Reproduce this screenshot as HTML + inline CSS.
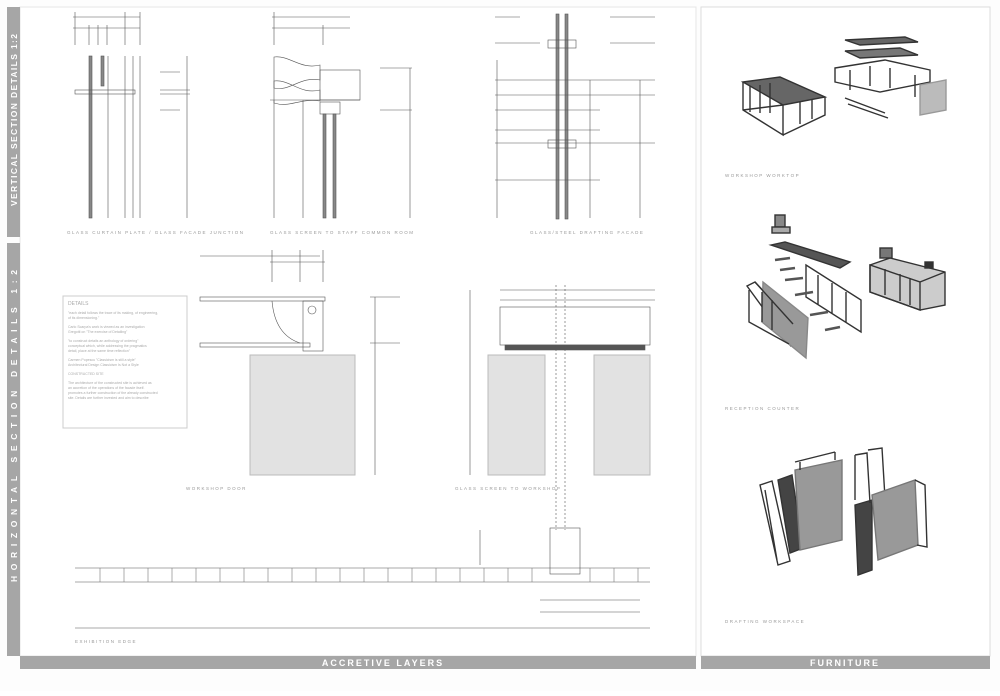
<!DOCTYPE html>
<html><head><style>
body{margin:0;background:#fff;width:1000px;height:691px;overflow:hidden;font-family:"Liberation Sans",sans-serif}
</style></head><body>
<svg width="1000" height="691" viewBox="0 0 1000 691" xmlns="http://www.w3.org/2000/svg" font-family="Liberation Sans, sans-serif">
<rect width="1000" height="691" fill="#fdfdfd"/>
<rect x="20" y="7" width="676" height="649" fill="#fff" stroke="#e6e6e6"/>
<rect x="701" y="7" width="289" height="649" fill="#fff" stroke="#dcdcdc"/>
<rect x="7" y="7" width="13" height="230" fill="#a6a6a6"/>
<rect x="7" y="243" width="13" height="413" fill="#a6a6a6"/>
<text transform="translate(17,206) rotate(-90)" fill="#fff" font-size="8.5" font-weight="bold" textLength="172" lengthAdjust="spacing">VERTICAL SECTION DETAILS 1:2</text>
<text transform="translate(17,582) rotate(-90)" fill="#fff" font-size="8.5" font-weight="bold" textLength="312" lengthAdjust="spacing">HORIZONTAL SECTION DETAILS 1:2</text>
<rect x="20" y="656" width="676" height="13" fill="#a6a6a6"/>
<rect x="701" y="656" width="289" height="13" fill="#a6a6a6"/>
<text x="383" y="666" fill="#fff" font-size="9" font-weight="bold" letter-spacing="2" text-anchor="middle">ACCRETIVE LAYERS</text>
<text x="845" y="666" fill="#fff" font-size="9" font-weight="bold" letter-spacing="2" text-anchor="middle">FURNITURE</text>

<g stroke="#555" stroke-width="0.6" fill="none">
<line x1="73" y1="17" x2="140" y2="17"/><line x1="73" y1="28" x2="140" y2="28"/>
<line x1="75" y1="12" x2="75" y2="45"/><line x1="125" y1="12" x2="125" y2="45"/><line x1="140" y1="12" x2="140" y2="45"/>
<line x1="89" y1="25" x2="89" y2="45"/><line x1="98" y1="25" x2="98" y2="45"/><line x1="107" y1="25" x2="107" y2="45"/>
<rect x="89" y="56" width="3" height="162" fill="#888"/><rect x="101" y="56" width="3" height="30" fill="#888"/>
<rect x="75" y="90" width="60" height="4"/>
<line x1="108" y1="56" x2="108" y2="218"/><line x1="125" y1="56" x2="125" y2="218"/><line x1="133" y1="56" x2="133" y2="218"/><line x1="140" y1="56" x2="140" y2="218"/>
<line x1="187" y1="56" x2="187" y2="218"/><line x1="160" y1="72" x2="180" y2="72"/><line x1="160" y1="110" x2="180" y2="110"/>
<line x1="160" y1="90" x2="190" y2="90"/><line x1="160" y1="94" x2="190" y2="94"/>
<line x1="272" y1="17" x2="350" y2="17"/><line x1="272" y1="28" x2="350" y2="28"/>
<line x1="274" y1="12" x2="274" y2="45"/><line x1="323" y1="25" x2="323" y2="45"/>
<path d="M274 57 C290 55 300 70 320 65 L320 80 C300 76 290 92 274 88 Z"/>
<path d="M274 81 C290 79 300 95 320 90 L320 101 C300 98 290 108 274 103 Z"/>
<rect x="320" y="70" width="40" height="30"/>
<line x1="270" y1="100" x2="360" y2="100"/><rect x="320" y="102" width="20" height="12"/>
<rect x="323" y="114" width="3" height="104" fill="#888"/><rect x="333" y="114" width="3" height="104" fill="#888"/>
<line x1="274" y1="100" x2="274" y2="218"/><line x1="303" y1="100" x2="303" y2="218"/>
<line x1="410" y1="68" x2="410" y2="218"/><line x1="380" y1="68" x2="412" y2="68"/><line x1="380" y1="110" x2="412" y2="110"/>
<line x1="495" y1="17" x2="520" y2="17"/><line x1="610" y1="17" x2="655" y2="17"/>
<line x1="495" y1="43" x2="540" y2="43"/><line x1="610" y1="43" x2="655" y2="43"/>
<rect x="556" y="14" width="3" height="205" fill="#888"/><rect x="565" y="14" width="3" height="205" fill="#888"/>
<rect x="548" y="40" width="28" height="8"/><rect x="548" y="140" width="28" height="8"/>
<line x1="495" y1="80" x2="655" y2="80"/><line x1="495" y1="95" x2="655" y2="95"/>
<line x1="495" y1="110" x2="600" y2="110"/><line x1="495" y1="130" x2="600" y2="130"/>
<line x1="495" y1="143" x2="655" y2="143"/><line x1="495" y1="180" x2="600" y2="180"/>
<line x1="590" y1="80" x2="590" y2="218"/><line x1="640" y1="80" x2="640" y2="218"/>
<line x1="497" y1="60" x2="497" y2="218"/>
<line x1="200" y1="256" x2="320" y2="256"/><line x1="270" y1="262" x2="325" y2="262"/>
<line x1="272" y1="250" x2="272" y2="282"/><line x1="300" y1="250" x2="300" y2="282"/><line x1="323" y1="250" x2="323" y2="282"/>
<rect x="200" y="297" width="125" height="4"/><rect x="200" y="343" width="110" height="4"/>
<path d="M272 301 Q275 335 300 343"/><rect x="303" y="301" width="20" height="50"/><circle cx="312" cy="310" r="4"/>
<line x1="375" y1="297" x2="375" y2="475"/><line x1="370" y1="297" x2="400" y2="297"/><line x1="370" y1="343" x2="400" y2="343"/>
<line x1="500" y1="290" x2="655" y2="290"/><line x1="500" y1="300" x2="655" y2="300"/>
<rect x="500" y="307" width="150" height="38"/><rect x="505" y="345" width="140" height="5" fill="#555"/>
<line x1="556" y1="285" x2="556" y2="530" stroke-dasharray="2,2"/><line x1="565" y1="285" x2="565" y2="530" stroke-dasharray="2,2"/>
<line x1="470" y1="290" x2="470" y2="475"/>
<line x1="75" y1="568" x2="650" y2="568"/><line x1="75" y1="582" x2="650" y2="582"/>
<rect x="550" y="528" width="30" height="46"/>
<line x1="75" y1="628" x2="650" y2="628"/>
<line x1="480" y1="530" x2="480" y2="565"/><line x1="540" y1="600" x2="640" y2="600"/><line x1="540" y1="612" x2="640" y2="612"/>
</g>
<g stroke="#777" stroke-width="0.6">
<path d="M100 568v14M124 568v14M148 568v14M172 568v14M196 568v14M220 568v14M244 568v14M268 568v14M292 568v14M316 568v14M340 568v14M364 568v14M388 568v14M412 568v14M436 568v14M460 568v14M484 568v14M508 568v14M532 568v14M590 568v14M614 568v14M638 568v14"/>
</g>
<rect x="250" y="355" width="105" height="120" fill="#e2e2e2" stroke="#bbb"/>
<rect x="488" y="355" width="57" height="120" fill="#e2e2e2" stroke="#bbb"/>
<rect x="594" y="355" width="56" height="120" fill="#e2e2e2" stroke="#bbb"/>
<rect x="63" y="296" width="124" height="132" fill="#fff" stroke="#ccc"/>
<g fill="#aaa" font-size="3.5">
<text x="68" y="305" font-size="5">DETAILS</text>
<text x="68" y="314">"each detail follows the trace of its making, of engineering,</text>
<text x="68" y="319">of its dimensioning."</text>
<text x="68" y="328">Carlo Scarpa's work is viewed as an investigation</text>
<text x="68" y="333">Gregotti on "The exercise of Detailing"</text>
<text x="68" y="342">"to construct details an anthology of ordering"</text>
<text x="68" y="347">conceptual which, while addressing the pragmatics</text>
<text x="68" y="352">detail, place at the same time reflection"</text>
<text x="68" y="361">Carmen Popescu "Classicism is still a style"</text>
<text x="68" y="366">Architectural Design Classicism Is Not a Style</text>
<text x="68" y="375">CONSTRUCTED SITE</text>
<text x="68" y="384">The architecture of the constructed site is achieved as</text>
<text x="68" y="389">an accretion of the operations of the facade itself.</text>
<text x="68" y="394">promotes a further construction of the already constructed</text>
<text x="68" y="399">site. Details are further invested and aim to describe</text>
</g>
<g fill="#999" font-size="4.5" letter-spacing="1.5">
<text x="67" y="234">GLASS CURTAIN PLATE / GLASS FACADE JUNCTION</text>
<text x="270" y="234">GLASS SCREEN TO STAFF COMMON ROOM</text>
<text x="530" y="234">GLASS/STEEL DRAFTING FACADE</text>
<text x="186" y="490">WORKSHOP DOOR</text>
<text x="455" y="490">GLASS SCREEN TO WORKSHOP</text>
<text x="75" y="643">EXHIBITION EDGE</text>
<text x="725" y="177">WORKSHOP WORKTOP</text>
<text x="725" y="410">RECEPTION COUNTER</text>
<text x="725" y="623">DRAFTING WORKSPACE</text>
</g>
<g stroke="#333" stroke-width="1.4" fill="none">
<polygon points="743,82 780,77 825,97 783,105" fill="#666"/>
<path d="M743 82v28l40 25v-30M783 135l42-20v-18M743 110l40-5M750 86v26M760 85v28M770 83v30M800 102v22M812 99v20"/>
<polygon points="845,40 905,37 918,42 860,45" fill="#666"/>
<polygon points="845,51 900,48 918,55 860,58" fill="#777"/>
<path d="M835 68l50 -8 45 10 0 12 -50 10 -45 -10zM850 70v20M870 66v20M890 68v20M915 75v22M845 98l40 15M848 104l40 14"/>
<polygon points="920,85 946,80 946,110 920,115" fill="#bbb" stroke="#999"/>
</g>
<g stroke="#333" stroke-width="1.4" fill="none">
<rect x="775" y="215" width="10" height="12" fill="#888"/><rect x="772" y="227" width="18" height="6" fill="#aaa"/>
<polygon points="771,245 785,242 850,262 840,268" fill="#555"/>
<polygon points="747,286 755,282 790,320 790,345" />
<polygon points="763,282 808,318 806,358 762,322" fill="#999" stroke="#888"/>
<path d="M749 290v32l40 22M755 282l38 42M762 292v30M772 300v30"/>
<path d="M806 265l55 35v32l-55-35zM818 275v30M832 283v30M846 292v30"/>
<path d="M775 260l15 -2M780 270l15-2M785 280l18-2M795 295l18-3M810 315l18-3M825 330l15-3" stroke-width="2.5" stroke="#555"/>
<polygon points="870,265 890,258 945,272 945,305 920,310 870,292" fill="#ccc"/>
<path d="M870 265v27l50 18v-28zM920 282l25-10M885 269v26M900 274v27M910 278v27"/>
<rect x="880" y="248" width="12" height="10" fill="#777"/><rect x="925" y="262" width="8" height="6" fill="#333"/>
</g>
<g stroke="#333" stroke-width="1.4" fill="none">
<path d="M760 485l12 -4 18 80 -12 4zM765 490l12 70"/>
<polygon points="778,480 792,475 803,548 790,553" fill="#444"/>
<polygon points="795,470 842,460 842,540 800,550" fill="#999" stroke="#777"/>
<path d="M795 462l40-10M800 470v-8M835 460v-8"/>
<polygon points="855,505 872,500 872,570 858,575" fill="#444"/>
<path d="M855 455l12-2 3 50M868 450l14-2 3 50M855 455v45"/>
<polygon points="872,495 915,480 918,545 878,560" fill="#999" stroke="#777"/>
<path d="M915 480l10 5 2 62-10 -2"/>
</g>
</svg>
</body></html>
